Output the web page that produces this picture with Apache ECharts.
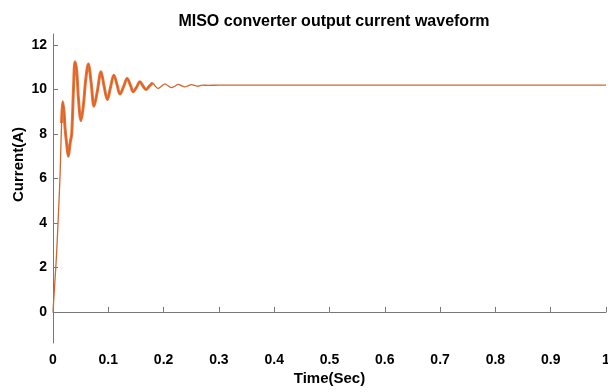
<!DOCTYPE html>
<html><head><meta charset="utf-8">
<script src="https://cdn.jsdelivr.net/npm/echarts@6/dist/echarts.min.js"></script>
<style>html,body{margin:0;padding:0;background:#fff}#c{width:608px;height:392px}</style>
</head><body><div id="c"></div>
<script>
const title = 'MISO converter output current waveform';
const xName = 'Time(Sec)';
const yName = 'Current(A)';
const yTicks = [0, 2, 4, 6, 8, 10, 12];
const time = [0, 0.003, 0.006, 0.010, 0.013, 0.0155, 0.0175, 0.020, 0.0217, 0.0245, 0.0277, 0.031, 0.0338, 0.037, 0.0398, 0.043, 0.046, 0.0506, 0.055, 0.059, 0.0639, 0.069, 0.0741, 0.080, 0.0868, 0.092, 0.0982, 0.104, 0.110, 0.116, 0.121, 0.128, 0.134, 0.140, 0.145, 0.151, 0.157, 0.163, 0.168, 0.174, 0.180, 0.185, 0.190, 0.196, 0.2025, 0.208, 0.2145, 0.220, 0.2265, 0.232, 0.238, 0.244, 0.250, 0.256, 0.262, 0.270, 0.280, 0.3, 0.4, 0.5, 0.6, 0.7, 0.8, 0.9, 1.0];
const current = [0, 1.2, 2.4, 4.5, 6.3, 8.5, 9.45, 9.0, 8.3, 7.6, 7.0, 7.6, 8.0, 10.0, 11.25, 10.8, 9.6, 8.6, 9.3, 10.4, 11.15, 10.3, 9.25, 9.9, 10.8, 10.2, 9.55, 10.1, 10.65, 10.2, 9.8, 10.15, 10.5, 10.2, 9.9, 10.1, 10.35, 10.15, 10.0, 10.15, 10.3, 10.15, 10.05, 10.15, 10.26, 10.17, 10.09, 10.15, 10.23, 10.18, 10.12, 10.17, 10.22, 10.19, 10.15, 10.2, 10.19, 10.2, 10.2, 10.2, 10.2, 10.2, 10.2, 10.2, 10.2];

const pts = time.map((t, i) => [t, current[i]]);
const ripplePts = pts.filter(p => p[0] >= 0.015 && p[0] <= 0.182);

const chart = echarts.init(document.getElementById('c'), null, {renderer: 'canvas'});
const font = 'Liberation Sans, Arial, sans-serif';
chart.setOption({
  animation: false,
  title: {text: title, left: 329, top: 9, textAlign: 'center',
    textStyle: {fontFamily: font, fontSize: 16, fontWeight: 'bold', color: '#000'}},
  grid: {left: 53, right: 2, top: 34, bottom: 49, containLabel: false, outerBoundsMode: 'none'},
  xAxis: {type: 'value', min: 0, max: 1, interval: 0.1,
    name: xName, nameLocation: 'middle', nameGap: 28, nameMoveOverlap: false,
    nameTextStyle: {fontFamily: font, fontSize: 15, fontWeight: 'bold', color: '#000'},
    axisLine: {lineStyle: {color: '#777', width: 1}},
    axisTick: {inside: true, length: 5, lineStyle: {color: '#777'}},
    axisLabel: {fontFamily: font, fontSize: 14, fontWeight: 'bold', color: '#000', margin: 10,
      formatter: v => String(Math.round(v * 10) / 10)},
    splitLine: {show: false}},
  yAxis: {type: 'value', min: -1.4, max: 12.5,
    name: yName, nameLocation: 'middle', nameGap: 27, nameRotate: 90, nameMoveOverlap: false,
    nameTextStyle: {fontFamily: font, fontSize: 15, fontWeight: 'bold', color: '#000',
      padding: [0, 0, 0, 48]},
    axisLine: {show: true, lineStyle: {color: '#777', width: 1}},
    axisTick: {show: true, inside: true, length: 5, customValues: yTicks, lineStyle: {color: '#777'}},
    axisLabel: {fontFamily: font, fontSize: 14, fontWeight: 'bold', color: '#000', margin: 6,
      customValues: yTicks},
    splitLine: {show: false}},
  series: [
    {type: 'line', data: pts, showSymbol: false, smooth: 0.35,
      lineStyle: {color: '#D2662E', width: 1.3}},
    {type: 'line', data: ripplePts, showSymbol: false, smooth: 0.35,
      lineStyle: {color: '#E2601F', width: 3, opacity: 0.85}}
  ]
});
</script></body></html>
